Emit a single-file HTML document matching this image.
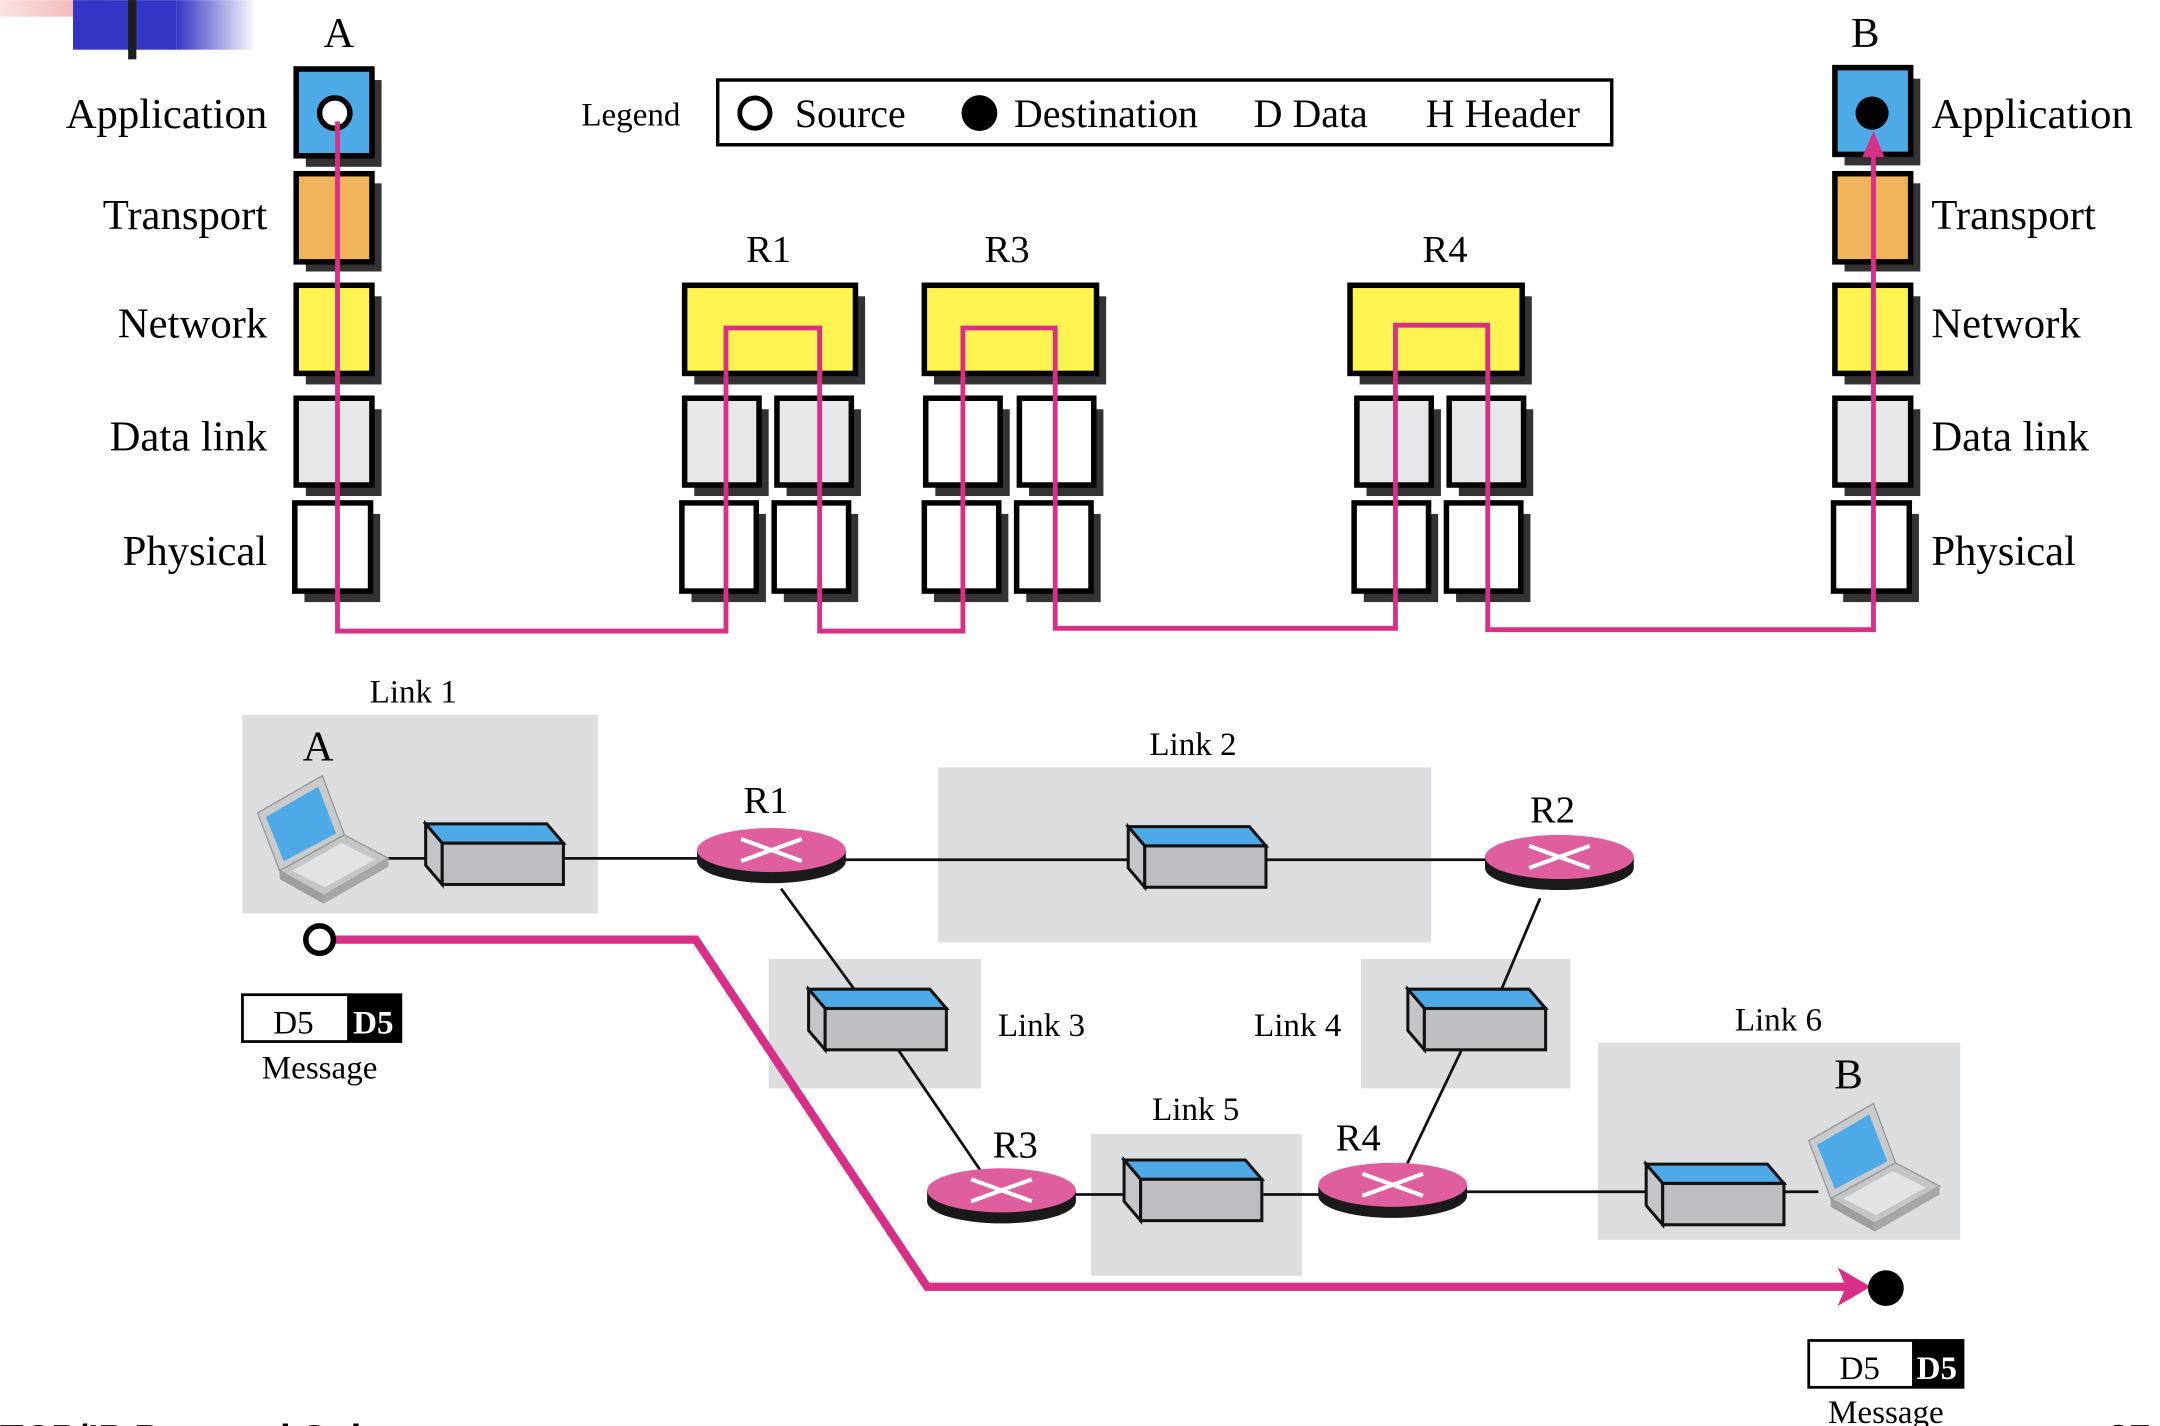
<!DOCTYPE html>
<html><head><meta charset="utf-8"><style>
html,body{margin:0;padding:0;background:#fff;}
svg{display:block;}
text{font-family:"Liberation Serif",serif;fill:#000;}
</style></head><body>
<svg width="2160" height="1426" viewBox="0 0 1568 1035" xmlns="http://www.w3.org/2000/svg">
<defs>
<linearGradient id="gp" x1="0" x2="1"><stop offset="0" stop-color="#fbe3e3"/><stop offset="1" stop-color="#f2a5a5"/></linearGradient>
<linearGradient id="gb" x1="0" x2="1"><stop offset="0" stop-color="#3535c4"/><stop offset="1" stop-color="#ffffff"/></linearGradient>
<g id="sw">
<polygon points="0,0 88,0 100,14 12,14" fill="#4daae6" stroke="#111" stroke-width="2.2"/>
<polygon points="0,0 12,14 12,44 0,30" fill="#c4c5c8" stroke="#111" stroke-width="2.2"/>
<rect x="12" y="14" width="88" height="30" fill="#bdbec1" stroke="#111" stroke-width="2.2"/>
</g>
<g id="rt">
<ellipse cx="0" cy="8" rx="54" ry="16" fill="#1a1a1a"/>
<rect x="-54" y="0" width="108" height="8" fill="#1a1a1a"/>
<ellipse cx="0" cy="0" rx="54" ry="16" fill="#df5f9e"/>
<path d="M-22,-8 L22,8 M-22,8 L22,-8" stroke="#fff" stroke-width="3"/>
</g>
<g id="lap">
<polygon points="-1,-8 46,-35 62,8 15,34" fill="#c9cacc" stroke="#9a9a9a" stroke-width="1"/>
<polygon points="5,-5 43,-27 56,7 18,27" fill="#4daae6"/>
<polygon points="15,34 62,8 94,25 47,52" fill="#c4c5c7" stroke="#9a9a9a" stroke-width="1"/>
<polygon points="24,34 60,14 84,26 48,46" fill="#e2e3e4"/>
<polygon points="47,52 94,25 94,31 47,58" fill="#a6a7a9"/>
<polygon points="15,34 47,52 47,58 15,40" fill="#9d9ea0"/>
</g>
</defs>
<rect x="0" y="0" width="80" height="12" fill="url(#gp)"/>
<rect x="53" y="0" width="75" height="36" fill="#3535c4"/>
<rect x="128" y="0" width="58" height="36" fill="url(#gb)"/>
<rect x="93" y="0" width="6" height="43" fill="#1e1e1e"/>

<g font-size="31">
<text x="246" y="34" text-anchor="middle">A</text>
<text x="1354" y="34" text-anchor="middle">B</text>
<text x="194" y="93" text-anchor="end">Application</text>
<text x="194" y="166" text-anchor="end">Transport</text>
<text x="194" y="245" text-anchor="end">Network</text>
<text x="194" y="327" text-anchor="end">Data link</text>
<text x="194" y="410" text-anchor="end">Physical</text>
<text x="1402" y="93">Application</text>
<text x="1402" y="166">Transport</text>
<text x="1402" y="245">Network</text>
<text x="1402" y="327">Data link</text>
<text x="1402" y="410">Physical</text>
</g>
<g font-size="28" text-anchor="middle">
<text x="558" y="190">R1</text>
<text x="731" y="190">R3</text>
<text x="1049" y="190">R4</text>
</g>

<text x="422" y="91" font-size="24">Legend</text>
<rect x="521" y="58" width="649" height="47" fill="#fff" stroke="#000" stroke-width="2.5"/>
<circle cx="548" cy="82" r="11" fill="#fff" stroke="#000" stroke-width="3.5"/>
<text x="577" y="92" font-size="29">Source</text>
<circle cx="711" cy="82" r="13" fill="#000"/>
<text x="736" y="92" font-size="29">Destination</text>
<text x="910" y="92" font-size="29">D  Data</text>
<text x="1035" y="92" font-size="29">H  Header</text>

<g stroke="#000" stroke-width="4">
<g fill="#333" stroke="none">
<rect x="222" y="58" width="55" height="63"/><rect x="222" y="133" width="55" height="64"/><rect x="222" y="215" width="55" height="64"/><rect x="222" y="297" width="55" height="63"/><rect x="221" y="373" width="55" height="64"/>
<rect x="1339" y="57" width="55" height="63"/><rect x="1339" y="133" width="55" height="64"/><rect x="1339" y="215" width="55" height="64"/><rect x="1339" y="297" width="55" height="63"/><rect x="1338" y="373" width="55" height="64"/>
<rect x="504" y="215" width="124" height="64"/><rect x="504" y="297" width="54" height="63"/><rect x="571" y="297" width="54" height="63"/><rect x="502" y="373" width="54" height="64"/><rect x="569" y="373" width="54" height="64"/>
<rect x="678" y="215" width="125" height="64"/><rect x="679" y="297" width="54" height="63"/><rect x="747" y="297" width="54" height="63"/><rect x="678" y="373" width="54" height="64"/><rect x="745" y="373" width="54" height="64"/>
<rect x="987" y="215" width="125" height="64"/><rect x="992" y="297" width="54" height="63"/><rect x="1059" y="297" width="54" height="63"/><rect x="990" y="373" width="54" height="64"/><rect x="1057" y="373" width="54" height="64"/>
</g>
<rect x="215" y="50" width="55" height="63" fill="#4daae6"/><rect x="215" y="126" width="55" height="64" fill="#f0b55a"/><rect x="215" y="207" width="55" height="64" fill="#fef350"/><rect x="215" y="289" width="55" height="63" fill="#e6e7e8"/><rect x="214" y="365" width="55" height="64" fill="#fff"/>
<rect x="1332" y="49" width="55" height="63" fill="#4daae6"/><rect x="1332" y="126" width="55" height="64" fill="#f0b55a"/><rect x="1332" y="207" width="55" height="64" fill="#fef350"/><rect x="1332" y="289" width="55" height="63" fill="#e6e7e8"/><rect x="1331" y="365" width="55" height="64" fill="#fff"/>
<rect x="497" y="207" width="124" height="64" fill="#fef350"/><rect x="497" y="289" width="54" height="63" fill="#e6e7e8"/><rect x="564" y="289" width="54" height="63" fill="#e6e7e8"/><rect x="495" y="365" width="54" height="64" fill="#fff"/><rect x="562" y="365" width="54" height="64" fill="#fff"/>
<rect x="671" y="207" width="125" height="64" fill="#fef350"/><rect x="672" y="289" width="54" height="63" fill="#fff"/><rect x="740" y="289" width="54" height="63" fill="#fff"/><rect x="671" y="365" width="54" height="64" fill="#fff"/><rect x="738" y="365" width="54" height="64" fill="#fff"/>
<rect x="980" y="207" width="125" height="64" fill="#fef350"/><rect x="985" y="289" width="54" height="63" fill="#e6e7e8"/><rect x="1052" y="289" width="54" height="63" fill="#e6e7e8"/><rect x="983" y="365" width="54" height="64" fill="#fff"/><rect x="1050" y="365" width="54" height="64" fill="#fff"/>
</g>
<circle cx="243" cy="82" r="11" fill="#fff" stroke="#000" stroke-width="4"/>
<circle cx="1359" cy="82" r="12" fill="#000"/>
<polyline points="245,88 245,458 527,458 527,238 595,238 595,458 699,458 699,238 766,238 766,456 1013,456 1013,236 1080,236 1080,457 1360,457 1360,110" fill="none" stroke="#d82f87" stroke-width="3.5"/>
<polygon points="1360,95 1352,114 1368,114" fill="#d82f87"/>

<g fill="#dcddde">
<rect x="176" y="519" width="258" height="144"/>
<rect x="681" y="557" width="358" height="127"/>
<rect x="558" y="696" width="154" height="94"/>
<rect x="988" y="696" width="152" height="94"/>
<rect x="792" y="823" width="153" height="103"/>
<rect x="1160" y="757" width="263" height="143"/>
</g>
<g stroke="#111" stroke-width="2" fill="none">
<line x1="278" y1="623" x2="320" y2="623"/>
<line x1="408" y1="623" x2="510" y2="623"/>
<line x1="610" y1="624" x2="830" y2="624"/>
<line x1="918" y1="624" x2="1080" y2="624"/>
<line x1="567" y1="645" x2="623" y2="722"/>
<line x1="652" y1="762" x2="712" y2="850"/>
<line x1="780" y1="867" x2="828" y2="867"/>
<line x1="915" y1="867" x2="960" y2="867"/>
<line x1="1020" y1="848" x2="1062" y2="760"/>
<line x1="1090" y1="718" x2="1118" y2="652"/>
<line x1="1065" y1="865" x2="1208" y2="865"/>
<line x1="1293" y1="865" x2="1320" y2="865"/>
</g>
<use href="#sw" x="309" y="598"/>
<use href="#sw" x="819" y="600"/>
<use href="#sw" x="587" y="718"/>
<use href="#sw" x="1022" y="718"/>
<use href="#sw" x="816" y="842"/>
<use href="#sw" x="1195" y="845"/>
<use href="#rt" x="560" y="617"/>
<use href="#rt" x="1132" y="622"/>
<use href="#rt" x="727" y="864"/>
<use href="#rt" x="1011" y="860"/>
<use href="#lap" x="188" y="598"/>
<use href="#lap" x="1314" y="836"/>

<g font-size="24" text-anchor="middle">
<text x="300" y="510">Link 1</text>
<text x="866" y="548">Link 2</text>
<text x="756" y="752">Link 3</text>
<text x="942" y="752">Link 4</text>
<text x="868" y="813">Link 5</text>
<text x="1291" y="748">Link 6</text>
</g>
<g font-size="31" text-anchor="middle">
<text x="231" y="552">A</text>
<text x="1342" y="790">B</text>
</g>
<g font-size="28" text-anchor="middle">
<text x="556" y="590">R1</text>
<text x="1127" y="597">R2</text>
<text x="737" y="840">R3</text>
<text x="986" y="835">R4</text>
</g>

<polyline points="243,682 505,682 673,934 1342,934" fill="none" stroke="#d82f87" stroke-width="6"/>
<polygon points="1358,934 1334,920 1340,934 1334,948" fill="#d82f87"/>
<circle cx="232" cy="682" r="10" fill="#fff" stroke="#000" stroke-width="4"/>
<circle cx="1369" cy="935" r="13" fill="#000"/>

<rect x="176" y="722" width="115" height="34" fill="#fff" stroke="#000" stroke-width="2"/>
<rect x="252" y="722" width="39" height="34" fill="#000"/>
<text x="213" y="750" font-size="24" text-anchor="middle">D5</text>
<text x="271" y="750" font-size="24" font-weight="bold" text-anchor="middle" style="fill:#fff">D5</text>
<text x="232" y="783" font-size="24" text-anchor="middle">Message</text>

<rect x="1313" y="973" width="112" height="34" fill="#fff" stroke="#000" stroke-width="2"/>
<rect x="1388" y="973" width="37" height="34" fill="#000"/>
<text x="1350" y="1001" font-size="24" text-anchor="middle">D5</text>
<text x="1406" y="1001" font-size="24" font-weight="bold" text-anchor="middle" style="fill:#fff">D5</text>
<text x="1369" y="1033" font-size="24" text-anchor="middle">Message</text>

<text x="0" y="1054" font-size="28" font-weight="bold" style="font-family:'Liberation Sans',sans-serif">TCP/IP Protocol Suite</text>
<text x="1530" y="1054" font-size="28" font-weight="bold" style="font-family:'Liberation Sans',sans-serif">27</text>
</svg>
</body></html>
